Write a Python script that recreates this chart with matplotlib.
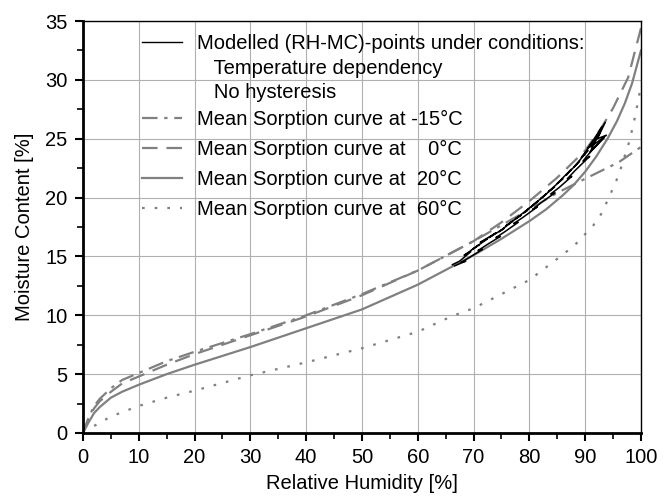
import numpy as np
import matplotlib.pyplot as plt
from matplotlib.lines import Line2D
from matplotlib.ticker import MultipleLocator

plt.rcParams['font.family'] = ['Liberation Sans', 'DejaVu Sans']

# Mean sorption curves (RH %, MC %)
rh_m15 = [0, 1, 2, 3, 5, 7, 10, 15, 20, 30, 40, 50, 60, 70, 80, 85, 90, 93, 96, 100]
mc_m15 = [0, 1.3, 2.3, 2.9, 3.8, 4.5, 5.1, 6.1, 6.9, 8.4, 10.0, 11.8, 13.8, 16.3, 19.0, 20.4, 21.6, 22.3, 23.0, 24.3]

rh_0 = [0, 1, 2, 3, 5, 7, 10, 15, 20, 30, 40, 50, 60, 70, 75, 80, 85, 90, 93, 95, 97.7, 100]
mc_0 = [0, 1.2, 2.1, 2.7, 3.5, 4.2, 4.8, 5.8, 6.7, 8.3, 9.9, 11.7, 13.8, 16.3, 17.9, 19.7, 21.7, 24.0, 26.0, 27.6, 30.2, 34.4]

rh_20 = [0, 1, 2, 3, 5, 7, 10, 15, 20, 30, 40, 50, 60, 66, 70, 75, 80, 83, 86, 88, 90, 92, 94, 95.7, 97.1, 98.4, 100]
mc_20 = [0, 0.9, 1.7, 2.2, 3.0, 3.5, 4.1, 5.0, 5.8, 7.3, 8.9, 10.5, 12.6, 14.1, 15.1, 16.5, 18.0, 19.0, 20.2, 21.1, 22.2, 23.5, 25.0, 26.5, 28.0, 29.7, 32.5]

rh_60 = [2, 5, 10, 15, 20, 30, 40, 50, 60, 66, 70, 80, 85, 88, 91.4, 93, 95, 96, 98, 99, 100]
mc_60 = [0.6, 1.4, 2.3, 3.0, 3.6, 4.9, 6.0, 7.2, 8.6, 9.9, 10.6, 13.0, 14.8, 15.9, 17.6, 18.7, 20.8, 21.9, 24.9, 27.0, 29.5]

# Modelled (RH-MC)-points, traced along the band (up and back)
rh_mod = [66.2, 67.5, 69.5, 68.3, 71.0, 69.8, 72.5, 71.2, 74.0, 72.8, 75.5, 74.6, 77.0, 75.8, 78.5,
          77.5, 80.0, 79.0, 81.5, 80.3, 83.0, 82.0, 84.5, 83.4, 86.0, 85.0, 87.5, 86.6, 89.0, 88.0,
          90.5, 89.3, 91.8, 90.5, 93.0, 91.6, 93.6, 92.2, 93.8, 91.0, 92.6, 90.8, 93.4,
          91.5, 89.6, 90.8, 88.2, 86.8, 87.6, 85.2, 83.8, 84.6, 82.2, 80.6, 81.4, 78.8,
          77.2, 78.0, 75.6, 74.0, 74.8, 72.4, 70.8, 71.6, 69.2, 67.8, 68.6, 66.6]
mc_mod = [14.3, 14.6, 15.4, 15.1, 16.0, 15.6, 16.5, 16.2, 17.0, 16.6, 17.4, 17.1, 18.0, 17.6, 18.5,
          18.2, 19.1, 18.7, 19.7, 19.2, 20.3, 19.9, 20.9, 20.5, 21.6, 21.2, 22.4, 21.9, 23.1, 22.6,
          24.0, 23.4, 25.0, 24.2, 26.0, 24.8, 26.4, 25.0, 25.3, 24.3, 25.5, 23.8, 25.1,
          24.2, 23.1, 23.5, 22.3, 21.6, 21.8, 20.8, 20.3, 20.4, 19.6, 19.0, 19.2, 18.3,
          17.8, 17.9, 17.1, 16.6, 16.7, 16.0, 15.5, 15.6, 14.9, 14.5, 14.6, 14.2]

gray = '#808080'
fs = 14.5
dd_m15 = [7, 3, 1.5, 3]
dd_0 = [7, 4]
dd_60 = [1.2, 4.5]

fig = plt.figure(figsize=(6.67, 5), dpi=100)
ax = fig.add_axes([0.1244, 0.134, 0.8366, 0.824])

ax.plot(rh_mod, mc_mod, color='black', lw=1.1, zorder=5)
ax.plot(rh_m15, mc_m15, color=gray, lw=1.6, dashes=dd_m15)
ax.plot(rh_0, mc_0, color=gray, lw=1.6, dashes=dd_0)
ax.plot(rh_20, mc_20, color=gray, lw=1.6)
ax.plot(rh_60, mc_60, color=gray, lw=1.6, dashes=dd_60)

ax.set_xlim(0, 100)
ax.set_ylim(0, 35)
ax.xaxis.set_major_locator(MultipleLocator(10))
ax.xaxis.set_minor_locator(MultipleLocator(5))
ax.yaxis.set_major_locator(MultipleLocator(5))
ax.yaxis.set_minor_locator(MultipleLocator(2.5))
ax.tick_params(which='major', direction='out', length=6, width=1.5, labelsize=fs, pad=5, top=False, right=False)
ax.tick_params(which='minor', direction='out', length=4, width=1.2, top=False, right=False)
ax.grid(True, which='major', color='#b0b0b0', lw=0.8)
for s in ['left', 'bottom']:
    ax.spines[s].set_linewidth(2.0)
for s in ['top', 'right']:
    ax.spines[s].set_linewidth(1.0)

ax.set_xlabel('Relative Humidity [%]', fontsize=fs, labelpad=5)
ax.set_ylabel('Moisture Content [%]', fontsize=fs, labelpad=8)

# legend part 1: modelled points with conditions
h1 = [Line2D([], [], color='black', lw=1.0),
      Line2D([], [], color='none'),
      Line2D([], [], color='none')]
l1 = ['Modelled (RH-MC)-points under conditions:',
      '   Temperature dependency',
      '   No hysteresis']
leg1 = ax.legend(h1, l1, loc='upper left', bbox_to_anchor=(0.082, 1.0), frameon=False,
                 fontsize=fs, handlelength=2.0, handletextpad=0.75, labelspacing=0.28,
                 borderaxespad=0.25)
ax.add_artist(leg1)

# legend part 2: mean sorption curves
h2 = [Line2D([], [], color=gray, lw=1.6, dashes=dd_m15),
      Line2D([], [], color=gray, lw=1.6, dashes=dd_0),
      Line2D([], [], color=gray, lw=1.6),
      Line2D([], [], color=gray, lw=1.6, dashes=dd_60)]
l2 = ['Mean Sorption curve at -15°C',
      'Mean Sorption curve at    0°C',
      'Mean Sorption curve at  20°C',
      'Mean Sorption curve at  60°C']
ax.legend(h2, l2, loc='upper left', bbox_to_anchor=(0.082, 0.816), frameon=False,
          fontsize=fs, handlelength=2.0, handletextpad=0.75, labelspacing=0.55,
          borderaxespad=0.25)

fig.savefig('out.png', dpi=100)
